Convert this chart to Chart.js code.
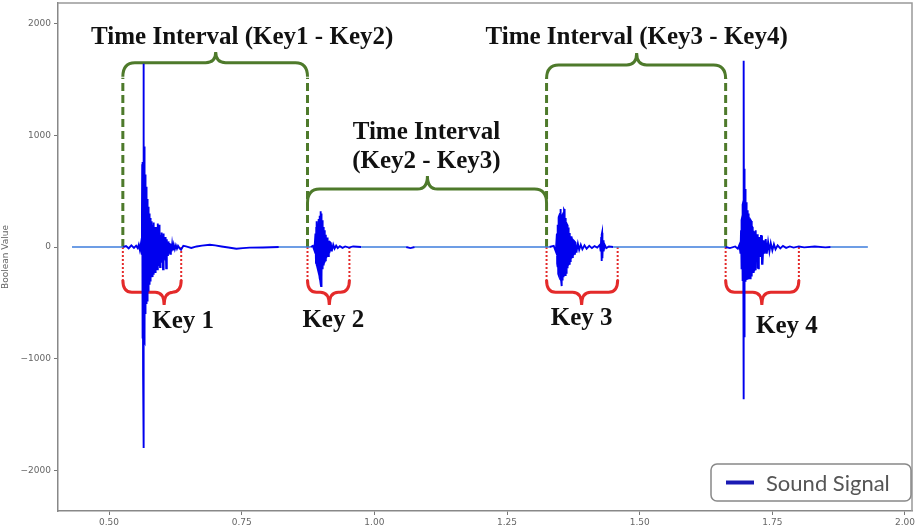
<!DOCTYPE html>
<html>
<head>
<meta charset="utf-8">
<script src="https://cdn.jsdelivr.net/npm/chart.js@4"></script>
<style>
  body { margin: 0; background: #fff; }
  canvas { display: block; }
</style>
</head>
<body>
<canvas id="chart" width="923" height="532"></canvas>
<script>
// Axis ticks
const xTicks = [0.5, 0.75, 1.0, 1.25, 1.5, 1.75, 2.0];
const yTicks = [-2000, -1000, 0, 1000, 2000];

// Keystrokes: start / end time of each one (s)
const keyNames = ["Key 1", "Key 2", "Key 3", "Key 4"];
const keyStarts = [0.526, 0.874, 1.3245, 1.662];
const keyEnds = [0.636, 0.953, 1.4585, 1.8];

const intervalNames = [
  ["Time Interval (Key1 - Key2)"],
  ["Time Interval", "(Key2 - Key3)"],
  ["Time Interval (Key3 - Key4)"],
];

// Sound signal, [time, amplitude]
const lead = [[0.4302, 0], [0.520, 0], [0.527, 0], [0.532, 8], [0.537, -12], [0.542, 15],
  [0.547, -8], [0.551, 12], [0.554, -10]];

const burst1 = [[0.556, 20], [0.558, -25], [0.560, 30], [0.5615, -60], [0.5620, 300],
  [0.5625, 740], [0.5628, -500], [0.5630, 700], [0.5634, -820], [0.5638, 760],
  [0.5642, -1150], [0.5645, 1640], [0.5648, -1800], [0.5651, -1250], [0.5654, 1175],
  [0.5656, -900], [0.5658, 1000], [0.5660, -840], [0.5662, 900], [0.5664, -850],
  [0.5666, 800], [0.5668, -830], [0.5670, 720], [0.5672, -820], [0.5674, 700],
  [0.5676, -800], [0.5678, 650], [0.5680, -600], [0.5682, 620], [0.5684, -560],
  [0.5687, 600], [0.5690, -540], [0.5692, 560], [0.5695, -520], [0.5697, 540],
  [0.5700, -510], [0.5702, 500], [0.5705, -500], [0.5708, 480], [0.5711, -490],
  [0.5714, 460], [0.5717, -480], [0.5720, 430], [0.5723, -440], [0.5726, 400],
  [0.5729, -420], [0.5732, 380], [0.5735, -390], [0.5738, 360], [0.5741, -380],
  [0.5745, 340], [0.5748, -350], [0.5752, 320], [0.5756, -330], [0.5760, 300],
  [0.5764, -310], [0.5768, 280], [0.5772, -300], [0.5776, 260], [0.5780, -290],
  [0.5785, 240], [0.5790, -280], [0.5795, 230], [0.5800, -270], [0.5805, 210],
  [0.5810, -260], [0.5815, 200], [0.5820, -250], [0.5826, 190], [0.5832, -240],
  [0.5838, 220], [0.5844, -235], [0.5850, 180], [0.5856, -230], [0.5862, 150],
  [0.5868, -225], [0.5874, 140], [0.5881, -220], [0.5888, 180], [0.5894, -205],
  [0.5900, 120], [0.5907, -200], [0.5915, 210], [0.5922, -160], [0.5930, 100],
  [0.5936, -150], [0.5942, 200], [0.5948, -170], [0.5955, 90], [0.5961, -180],
  [0.5968, 110], [0.5974, -150], [0.5980, 60], [0.5987, -140], [0.5995, 130],
  [0.6002, -120], [0.6010, 60], [0.6017, -200], [0.6025, 120], [0.6032, -120],
  [0.6040, 50], [0.6047, -100], [0.6055, 90], [0.6062, -120], [0.6070, 40],
  [0.6077, -190], [0.6085, 70], [0.6092, -90], [0.6100, 40], [0.6110, -80],
  [0.6120, 50], [0.6130, -50], [0.6140, 35], [0.6152, -60], [0.6165, 30],
  [0.6178, -40], [0.6190, 25], [0.6205, -30], [0.6220, 20], [0.6240, -20],
  [0.6260, 15], [0.6280, -15], [0.6300, 10], [0.6330, -12], [0.6357, -25], [0.6400, 10]];

const tail1 = [[0.645, 5], [0.655, -8], [0.665, 5], [0.675, 12], [0.690, 20], [0.700, 15],
  [0.712, 5], [0.725, -5], [0.740, -15], [0.752, -10], [0.765, -6], [0.790, -4],
  [0.820, 0], [0.873, 0], [0.880, 0]];

const burst2 = [[0.884, 10], [0.887, -30], [0.889, 120], [0.890, -150], [0.8905, 180],
  [0.891, 230], [0.8915, -160], [0.892, -170], [0.8925, 190], [0.893, 210],
  [0.8935, -190], [0.894, -200], [0.8945, 230], [0.895, 250], [0.8955, -230],
  [0.896, -240], [0.8965, 270], [0.897, 280], [0.8975, -280], [0.898, -300],
  [0.8984, 300], [0.8988, 320], [0.8992, -330], [0.8995, -350], [0.8998, 300],
  [0.9002, 290], [0.9006, -290], [0.9010, -280], [0.9015, 240], [0.9020, 220],
  [0.9025, -200], [0.9030, -190], [0.9035, 180], [0.9040, 170], [0.9045, -165],
  [0.9050, -160], [0.9056, 150], [0.9062, 140], [0.9068, -130], [0.9075, -120],
  [0.9082, 110], [0.9088, 100], [0.9094, -100], [0.9100, -100], [0.9108, 85],
  [0.9115, 80], [0.9122, -80], [0.9130, -80], [0.9138, 55], [0.9145, 50],
  [0.9152, -55], [0.9160, -55], [0.9170, 40], [0.9180, 35], [0.9190, -32],
  [0.9200, -30], [0.9225, 20], [0.9250, -15], [0.9280, 12], [0.9310, -10],
  [0.9350, 8], [0.9400, -8], [0.9450, 5], [0.9520, -5]];

const tail2 = [[0.960, 5], [0.975, 0], [1.060, 0], [1.068, -10], [1.076, 0], [1.330, 0]];

const burst3 = [[1.338, 10], [1.342, -40], [1.344, 120], [1.3445, -150], [1.345, -180],
  [1.3455, 180], [1.346, 200], [1.3465, -240], [1.347, -250], [1.3475, 260],
  [1.348, 280], [1.3485, -220], [1.349, -230], [1.3495, 290], [1.350, 300],
  [1.3505, 330], [1.351, 340], [1.3515, -290], [1.352, -300], [1.3525, -340],
  [1.353, -350], [1.3535, 270], [1.354, 280], [1.3545, -290], [1.355, -300],
  [1.3555, 290], [1.356, 300], [1.3565, -260], [1.357, -270], [1.3575, 330],
  [1.358, 340], [1.3585, 320], [1.359, 330], [1.3595, -250], [1.360, -240],
  [1.3605, 250], [1.361, 260], [1.3615, -230], [1.362, -220], [1.3626, 210],
  [1.3632, 200], [1.3638, -190], [1.3645, -180], [1.3652, 175], [1.3658, 170],
  [1.3664, -155], [1.3670, -150], [1.3678, 125], [1.3685, 120], [1.3692, -125],
  [1.3700, -120], [1.3708, 95], [1.3715, 90], [1.3722, -95], [1.3730, -90],
  [1.3740, 65], [1.3750, 60], [1.3760, -65], [1.3770, -60], [1.3780, 45],
  [1.3790, 40], [1.3800, -42], [1.3810, -40], [1.3835, 30], [1.3860, -25],
  [1.3890, 20], [1.3920, -20], [1.3960, 15], [1.4000, -15], [1.4050, 10],
  [1.4100, -10], [1.4150, 8], [1.4200, -5], [1.4250, 20], [1.4265, -40],
  [1.4275, 90], [1.4280, -100], [1.4285, -126], [1.4288, 110], [1.4292, 128],
  [1.4296, -100], [1.4300, -90], [1.4310, 60], [1.4320, -40], [1.4340, 20],
  [1.4370, -10], [1.4420, 5], [1.4500, 0]];

const tail3 = [[1.460, 0], [1.662, 0]];

const burst4 = [[1.670, -10], [1.680, 5], [1.685, -15], [1.688, 20], [1.690, -60],
  [1.691, 150], [1.6915, -180], [1.692, -200], [1.6925, 240], [1.693, 263],
  [1.6935, -290], [1.694, -305], [1.6945, 380], [1.695, 400], [1.6955, -600],
  [1.696, -1363], [1.6964, 1668], [1.6967, -800], [1.6970, -700], [1.6973, 700],
  [1.6976, 682], [1.6980, -330], [1.6983, -320], [1.6987, 520], [1.6990, 500],
  [1.6995, -310], [1.7000, -300], [1.7005, 400], [1.7010, 386], [1.7015, -295],
  [1.7020, -290], [1.7025, 330], [1.7030, 320], [1.7035, -285], [1.7040, -280],
  [1.7045, 300], [1.7050, 296], [1.7056, -280], [1.7062, -278], [1.7068, 255],
  [1.7075, 250], [1.7082, -280], [1.7088, -280], [1.7094, 240], [1.7100, 233],
  [1.7108, -265], [1.7115, -260], [1.7122, 180], [1.7130, 173], [1.7138, -225],
  [1.7145, -220], [1.7152, 135], [1.7160, 130], [1.7168, -205], [1.7175, -200],
  [1.7182, 150], [1.7190, 150], [1.7198, -125], [1.7205, -120], [1.7212, 115],
  [1.7220, 115], [1.7229, -185], [1.7238, -190], [1.7246, 80], [1.7255, 80],
  [1.7265, -80], [1.7275, -80], [1.7285, 100], [1.7295, 100], [1.7305, -150],
  [1.7315, -150], [1.7335, 60], [1.7355, -60], [1.7375, 70], [1.7395, -60],
  [1.7420, 45], [1.7445, -40], [1.7470, 35], [1.7500, -30], [1.7530, 25],
  [1.7560, -20], [1.7600, 15], [1.7650, -12], [1.7700, 10], [1.7760, -8],
  [1.7830, 5], [1.7900, -5], [1.8000, 5]];

const tail4 = [[1.810, -3], [1.830, 5], [1.850, -3], [1.860, 0], [1.930, 0]];

const signal = [...lead, ...burst1, ...tail1, ...burst2, ...tail2, ...burst3, ...tail3, ...burst4, ...tail4];

// where the annotations sit, in data units
const annot = {
  keyTips: [0.6038, 0.9151, 1.3906, 1.7302],
  keyLabelX: [0.6396, 0.9226, 1.3906, 1.7774],
  keyLabelY: [-671, -654, -636, -716],
  braceTop: -295, braceMid: -405, braceTip: -520,
  intervalTips: [0.701, 1.100, 1.4943],
  intervalLevel: [1650, 519, 1630],
  intervalTipLevel: [1745, 636, 1737],
  intervalLabelX: [0.7509, 1.0981, 1.4943],
  intervalLabelY: [[1871], [1021, 761], [1871]],
  dashTop: 1515,
};

const GREEN = "#4e7a2b";
const RED = "#e42a2a";

function brace(ctx, x0, x1, xt, yEnd, yMid, yTip, rc, rt) {
  ctx.beginPath();
  ctx.moveTo(x0, yEnd);
  ctx.quadraticCurveTo(x0, yMid, x0 + rc, yMid);
  ctx.lineTo(xt - rt, yMid);
  ctx.quadraticCurveTo(xt, yMid, xt, yTip);
  ctx.quadraticCurveTo(xt, yMid, xt + rt, yMid);
  ctx.lineTo(x1 - rc, yMid);
  ctx.quadraticCurveTo(x1, yMid, x1, yEnd);
  ctx.stroke();
}

const keyAnnotations = {
  id: "keyAnnotations",
  beforeDatasetsDraw(chart) {
    const { ctx, scales: { x, y } } = chart;
    ctx.save();
    ctx.lineCap = "butt";

    // green dashed verticals at each key start
    ctx.strokeStyle = GREEN;
    ctx.lineWidth = 3;
    ctx.setLineDash([8, 4]);
    keyStarts.forEach((t) => {
      ctx.beginPath();
      ctx.moveTo(x.getPixelForValue(t), y.getPixelForValue(0));
      ctx.lineTo(x.getPixelForValue(t), y.getPixelForValue(annot.dashTop));
      ctx.stroke();
    });

    // green brackets between key starts
    ctx.setLineDash([]);
    for (let i = 0; i < 3; i++) {
      const x0 = x.getPixelForValue(keyStarts[i]);
      const x1 = x.getPixelForValue(keyStarts[i + 1]);
      const ym = y.getPixelForValue(annot.intervalLevel[i]);
      brace(ctx, x0, x1, x.getPixelForValue(annot.intervalTips[i]),
        ym + 14, ym, y.getPixelForValue(annot.intervalTipLevel[i]), 12, 10);
    }

    // red dotted verticals and braces under each key
    ctx.strokeStyle = RED;
    ctx.lineWidth = 2;
    ctx.setLineDash([2, 2]);
    keyStarts.concat(keyEnds).forEach((t) => {
      ctx.beginPath();
      ctx.moveTo(x.getPixelForValue(t), y.getPixelForValue(0));
      ctx.lineTo(x.getPixelForValue(t), y.getPixelForValue(annot.braceTop));
      ctx.stroke();
    });
    ctx.setLineDash([]);
    ctx.lineWidth = 3;
    keyStarts.forEach((t, i) => {
      brace(ctx, x.getPixelForValue(t), x.getPixelForValue(keyEnds[i]),
        x.getPixelForValue(annot.keyTips[i]),
        y.getPixelForValue(annot.braceTop), y.getPixelForValue(annot.braceMid),
        y.getPixelForValue(annot.braceTip), 9, 9);
    });

    // texts
    ctx.fillStyle = "#111";
    ctx.textAlign = "center";
    ctx.textBaseline = "middle";
    ctx.font = 'bold 25px "Liberation Serif", "Times New Roman", serif';
    intervalNames.forEach((lines, i) => {
      lines.forEach((line, j) => {
        ctx.fillText(line, x.getPixelForValue(annot.intervalLabelX[i]),
          y.getPixelForValue(annot.intervalLabelY[i][j]));
      });
    });
    keyNames.forEach((name, i) => {
      ctx.fillText(name, x.getPixelForValue(annot.keyLabelX[i]), y.getPixelForValue(annot.keyLabelY[i]));
    });
    ctx.restore();
  },
  afterDraw(chart) {
    const { ctx, chartArea: a } = chart;
    ctx.save();
    // top and right frame
    ctx.strokeStyle = "#999";
    ctx.lineWidth = 1.5;
    ctx.beginPath();
    ctx.moveTo(a.left, a.top);
    ctx.lineTo(a.right, a.top);
    ctx.lineTo(a.right, a.bottom);
    ctx.stroke();

    // legend box, lower right
    const w = 200, h = 37;
    const bx = a.right - w - 1, by = a.bottom - h - 10;
    ctx.fillStyle = "#fff";
    ctx.strokeStyle = "#888";
    ctx.lineWidth = 1.5;
    ctx.beginPath();
    ctx.roundRect(bx, by, w, h, 6);
    ctx.fill();
    ctx.stroke();
    ctx.strokeStyle = "#1a1ab4";
    ctx.lineWidth = 4;
    ctx.beginPath();
    ctx.moveTo(bx + 15, by + h / 2);
    ctx.lineTo(bx + 43, by + h / 2);
    ctx.stroke();
    ctx.fillStyle = "#555";
    ctx.font = '22px Lato, "Open Sans", sans-serif';
    ctx.textAlign = "left";
    ctx.textBaseline = "middle";
    ctx.fillText(chart.data.datasets[0].label, bx + 55, by + h / 2 + 1);
    ctx.restore();
  },
};

const tickFont = { size: 9, family: '"DejaVu Sans", sans-serif' };

new Chart(document.getElementById("chart"), {
  type: "line",
  data: {
    datasets: [
      {
        label: "Sound Signal",
        data: signal.map(([t, v]) => ({ x: t, y: v })),
        borderColor: "#0000ee",
        borderWidth: 1.9,
        pointRadius: 0,
        tension: 0,
        segment: {
          borderColor: (c) => (c.p0.parsed.y === 0 && c.p1.parsed.y === 0 ? "#3d7ddc" : undefined),
          borderWidth: (c) => (c.p0.parsed.y === 0 && c.p1.parsed.y === 0 ? 1.4 : undefined),
        },
      },
    ],
  },
  options: {
    responsive: false,
    animation: false,
    layout: { padding: { left: 0, right: 11, top: 3, bottom: 0 }, autoPadding: false },
    plugins: { legend: { display: false }, tooltip: { enabled: false } },
    scales: {
      x: {
        type: "linear",
        min: 0.4038,
        max: 2.0132,
        afterBuildTicks: (s) => { s.ticks = xTicks.map((v) => ({ value: v })); },
        afterFit: (s) => { s.height = 21; s.paddingLeft = 0; s.paddingRight = 0; },
        ticks: { callback: (v) => Number(v).toFixed(2), font: tickFont, color: "#666", padding: 2, maxRotation: 0, autoSkip: false },
        grid: { drawOnChartArea: false, tickLength: 4, color: "#777" },
        border: { color: "#888", width: 1.5 },
      },
      y: {
        type: "linear",
        min: -2363,
        max: 2184,
        afterBuildTicks: (s) => { s.ticks = yTicks.map((v) => ({ value: v })); },
        afterFit: (s) => { s.width = 58; s.paddingTop = 0; s.paddingBottom = 0; },
        ticks: { callback: (v) => (v < 0 ? "\u2212" + Math.abs(v) : String(v)), font: tickFont, color: "#666", padding: 3 },
        grid: { drawOnChartArea: false, tickLength: 4, color: "#777" },
        border: { color: "#888", width: 1.5 },
        title: { display: true, text: "Boolean Value", font: tickFont, color: "#666", padding: 0 },
      },
    },
  },
  plugins: [keyAnnotations],
});
</script>
</body>
</html>
